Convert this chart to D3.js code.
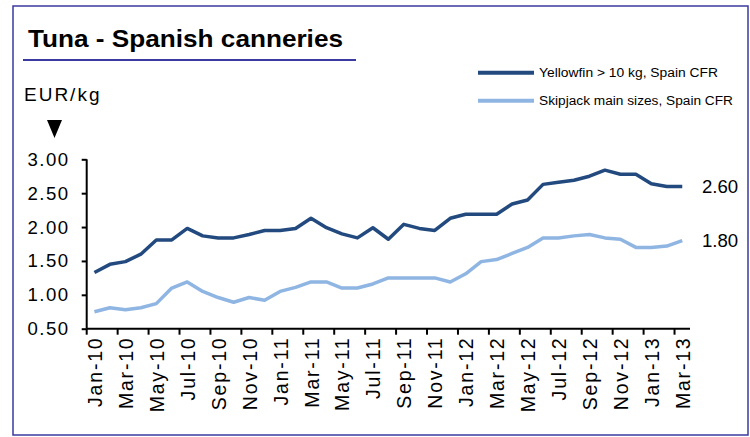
<!DOCTYPE html>
<html><head><meta charset="utf-8">
<script src="https://cdn.jsdelivr.net/npm/d3@7"></script>
<style>
body{margin:0;background:#fff;}
svg{display:block;font-family:"Liberation Sans",Arial,sans-serif;}
</style></head>
<body><svg id="c" width="750" height="437"></svg>
<script>
const months = ["Jan-10","Feb-10","Mar-10","Apr-10","May-10","Jun-10","Jul-10","Aug-10","Sep-10","Oct-10","Nov-10","Dec-10",
"Jan-11","Feb-11","Mar-11","Apr-11","May-11","Jun-11","Jul-11","Aug-11","Sep-11","Oct-11","Nov-11","Dec-11",
"Jan-12","Feb-12","Mar-12","Apr-12","May-12","Jun-12","Jul-12","Aug-12","Sep-12","Oct-12","Nov-12","Dec-12",
"Jan-13","Feb-13","Mar-13"];
const yellowfin = [1.33,1.45,1.49,1.60,1.81,1.81,1.98,1.87,1.84,1.84,1.89,1.95,1.95,1.98,2.13,1.99,1.90,1.84,1.99,1.82,
2.04,1.98,1.95,2.13,2.19,2.19,2.19,2.34,2.40,2.63,2.66,2.69,2.75,2.84,2.78,2.78,2.64,2.60,2.60];
const skipjack = [0.75,0.81,0.78,0.81,0.87,1.10,1.19,1.05,0.96,0.89,0.96,0.92,1.05,1.11,1.19,1.19,1.10,1.10,1.16,1.25,
1.25,1.25,1.25,1.19,1.31,1.49,1.52,1.61,1.70,1.84,1.84,1.87,1.89,1.84,1.82,1.70,1.70,1.72,1.80];
const yTicks = [0.5,1.0,1.5,2.0,2.5,3.0];
const seriesNames = ["Yellowfin > 10 kg, Spain CFR","Skipjack main sizes, Spain CFR"];
const endLabels = ["2.60","1.80"];
const title = "Tuna - Spanish canneries";
const unit = "EUR/kg";

const svg = d3.select("#c");
const colors = ["#224a7e","#8fb5e3"];
const FF = "'Liberation Sans', Arial, sans-serif";

// frame
svg.append("rect").attr("x",13).attr("y",6).attr("width",735).attr("height",429)
  .attr("fill","none").attr("stroke","#3a3aa0").attr("stroke-width",1.5);

// title
svg.append("text").attr("x",28).attr("y",47).attr("font-size",24).attr("font-weight","bold")
  .attr("textLength",315).attr("lengthAdjust","spacingAndGlyphs").text(title);
svg.append("line").attr("x1",23).attr("x2",356).attr("y1",60).attr("y2",60)
  .attr("stroke","#3a3aa0").attr("stroke-width",2);

// unit
svg.append("text").attr("x",24).attr("y",101).attr("font-size",19).attr("letter-spacing","2px").text(unit);
svg.append("path").attr("d","M47,120 L62,120 L54.5,138 Z").attr("fill","#000");

const x = d3.scaleBand().domain(months).range([86.7,690]).paddingInner(0).paddingOuter(0);
const y = d3.scaleLinear().domain([0.5,3.0]).range([328.7,159.3]);
const cx = d => x(d) + x.bandwidth()/2;

// y axis
const ya = svg.append("g").attr("transform","translate(86.7,0)")
  .call(d3.axisLeft(y).tickValues(yTicks).tickFormat(d3.format(".2f")).tickSize(5).tickPadding(12));
ya.select(".domain").attr("stroke","#000").attr("stroke-width",2).attr("d","M0,159.3V328.7");
ya.selectAll(".tick line").attr("stroke","#000").attr("stroke-width",2);
ya.selectAll(".tick text").attr("font-size",18.6).attr("letter-spacing","1.5px").attr("fill","#000")
  .attr("font-family",FF);

// x axis
const xa = svg.append("g").attr("transform","translate(0,328.7)");
xa.append("line").attr("x1",x.range()[0]).attr("x2",x.range()[1]).attr("stroke","#000").attr("stroke-width",2);
const evenMonths = months.filter((m,i)=>i%2===0);
xa.selectAll("line.tk").data(evenMonths).enter().append("line").attr("class","tk")
  .attr("x1",d=>x(d)).attr("x2",d=>x(d)).attr("y1",0).attr("y2",6)
  .attr("stroke","#000").attr("stroke-width",2);
xa.selectAll("text.lb").data(evenMonths).enter().append("text").attr("class","lb")
  .attr("transform",d=>`translate(${cx(d)+7.5},7.8) rotate(-90)`)
  .attr("text-anchor","end").attr("font-size",19.5).attr("letter-spacing","1.8px").text(d=>d);

// lines
const line = d3.line().x((d,i)=>cx(months[i])).y(d=>y(d));
[yellowfin,skipjack].forEach((s,k)=>{
  svg.append("path").datum(s).attr("d",line).attr("fill","none")
    .attr("stroke",colors[k]).attr("stroke-width",3.5).attr("stroke-linejoin","round");
});

// end labels
[yellowfin,skipjack].forEach((s,k)=>{
  svg.append("text").attr("x",702).attr("y",y(s[s.length-1])).attr("dy","0.35em")
    .attr("font-size",18.6).text(endLabels[k]);
});

// legend
seriesNames.forEach((n,k)=>{
  const ly = 72.7 + k*28;
  svg.append("line").attr("x1",478).attr("x2",534).attr("y1",ly).attr("y2",ly)
    .attr("stroke",colors[k]).attr("stroke-width",4);
  svg.append("text").attr("x",539).attr("y",ly).attr("dy","0.35em").attr("font-size",12.5)
    .attr("textLength",k===0?179:194).attr("lengthAdjust","spacingAndGlyphs").text(n);
});
</script></body></html>
